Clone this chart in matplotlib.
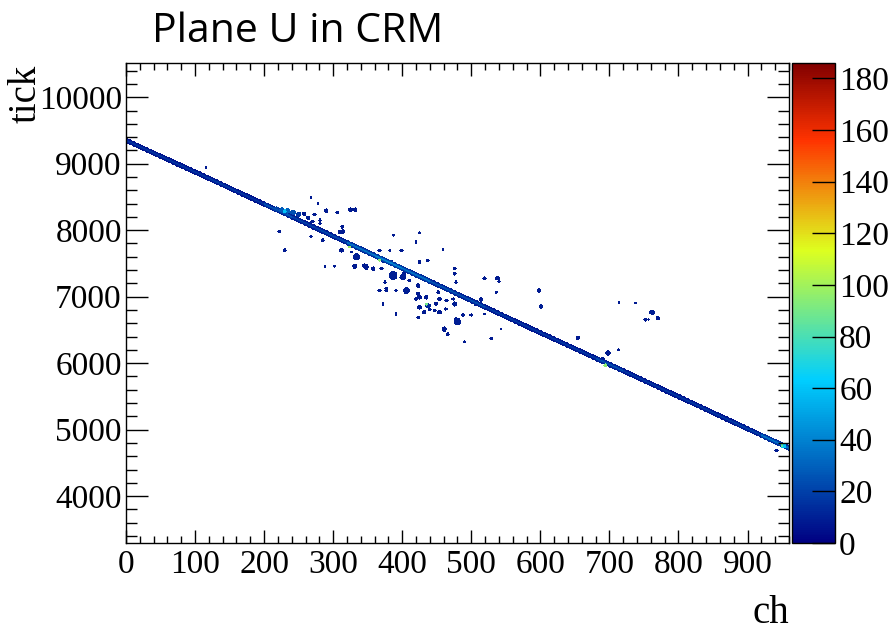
import numpy as np
import matplotlib
matplotlib.use('Agg')
import matplotlib.pyplot as plt
from matplotlib.colors import LinearSegmentedColormap
from matplotlib.ticker import MultipleLocator

# track vertices (channel, tick)
track_ch = [0, 120, 240, 360, 480, 600, 720, 840, 960]
track_tick = [9340, 8770, 8190, 7610, 7030, 6450, 5880, 5300, 4720]
# charge in the track core, one value per 40-channel segment
track_q = [16, 16, 16, 18, 16, 26, 20, 22, 36, 42, 36, 26,
           24, 18, 17, 17, 17, 24, 17, 17, 17, 17, 20, 36]
# relative charge across the track (6-tick rows)
track_profile = [0.35, 0.4, 0.45, 0.55, 0.7, 0.9, 1.0, 1.0, 0.9, 0.7, 0.55, 0.45, 0.4, 0.35]

# isolated hits / blobs: channel, tick, radius (channels), charge
blob_ch = [116, 222, 230, 268, 278, 290, 306, 325, 332, 264, 270, 281, 268, 285,
           313, 314, 312, 288, 302, 334, 331, 348, 358, 367, 382, 387, 399, 420,
           425, 459, 372, 387, 401, 375, 377, 367, 406, 423, 423, 435, 420, 425,
           437, 449, 452, 464, 474, 476, 432, 447, 454, 423, 391, 372, 480, 461,
           466, 490, 488, 500, 476, 519, 538, 540, 514, 506, 519, 536, 543, 529,
           598, 601, 654, 690, 698, 713, 714, 738, 762, 770, 752, 757,
           258, 273, 266, 281, 309, 345, 370, 384, 403, 410, 425, 440, 454, 463,
           478, 478, 377, 391, 425, 437, 476, 326,
           218, 226, 234, 242, 250, 942,
           230, 324, 367, 435, 694, 952, 950]
blob_tick = [8930, 7973, 7690, 8480, 8390, 8280, 8255, 8300, 8300, 8175, 8120, 8090, 7890, 7837,
             8039, 7970, 7686, 7450, 7450, 7590, 7450, 7436, 7410, 7686, 7686, 7912, 7686, 7813,
             7952, 7702, 7536, 7310, 7285, 7210, 7109, 7083, 7083, 7158, 7033, 6983, 6958, 6832,
             6857, 6883, 7059, 6933, 6958, 6883, 6757, 6783, 6757, 6682, 6732, 6883, 6616, 6505,
             6430, 6314, 6717, 6717, 7335, 7270, 7270, 7220, 6948, 6883, 6732, 7059, 6505, 6365,
             7083, 6840, 6374, 6063, 6143, 6194, 6908, 6893, 6757, 6671, 6646, 6646,
             8235, 8225, 8090, 8140, 7963, 7460, 7410, 7511, 7335, 7235, 6983, 6800, 6958, 6807,
             7210, 6656, 7083, 7083, 7511, 7536, 7410, 7662,
             8310, 8295, 8280, 8255, 8225, 4680,
             8275, 7740, 7540, 6880, 5965, 4760, 4755]
blob_r = [1.5, 2, 2, 1.5, 1.5, 2.5, 2, 2.5, 2.5, 2.5, 2, 2, 2, 2,
          2, 2.5, 2.5, 1.5, 1.5, 4, 3, 3, 2.5, 2, 1.5, 1.5, 2, 2,
          1.5, 1.5, 2.5, 5, 3.5, 2, 2, 2, 4, 2.5, 2.5, 2.5, 2, 2.5,
          3, 2.5, 2, 2, 2, 3, 2.5, 2, 2.5, 2, 2, 2, 4, 3,
          2, 1.5, 2, 2, 2, 2, 2.5, 2, 2.5, 2, 1.5, 1.5, 1.5, 2,
          2.5, 2.5, 2.5, 2, 3, 1.5, 1.5, 1.5, 3, 2.5, 2, 1.5,
          2.5, 2, 2, 2, 2, 2.5, 2, 2, 2.5, 2, 2.5, 2, 2.5, 2,
          2, 2, 2, 2, 2, 2, 2, 1.5,
          3, 3, 3, 3, 3, 2,
          2, 1.5, 1.5, 1.5, 2, 3, 1.5]
blob_q = [8, 8, 8, 8, 8, 8, 8, 8, 8, 10, 8, 8, 8, 8,
          8, 8, 8, 8, 8, 10, 8, 8, 8, 8, 8, 8, 8, 8,
          8, 8, 10, 10, 10, 8, 8, 8, 10, 8, 8, 8, 8, 8,
          12, 8, 8, 8, 8, 10, 8, 8, 8, 8, 8, 8, 10, 8,
          8, 8, 8, 8, 8, 8, 8, 8, 8, 8, 8, 8, 8, 8,
          8, 10, 8, 8, 8, 8, 8, 8, 10, 8, 8, 8,
          8, 8, 8, 8, 8, 8, 8, 8, 8, 8, 8, 8, 8, 8,
          8, 8, 8, 8, 8, 8, 8, 8,
          20, 28, 30, 24, 16, 8,
          60, 100, 95, 90, 95, 60, 85]

x_ticks = [0, 100, 200, 300, 400, 500, 600, 700, 800, 900]
y_ticks = [4000, 5000, 6000, 7000, 8000, 9000, 10000]
z_ticks = [0, 20, 40, 60, 80, 100, 120, 140, 160, 180]

# ROOT rainbow palette (kRainBow-like)
stops = [0.00, 0.34, 0.61, 0.84, 1.00]
red = [0.00, 0.00, 0.87, 1.00, 0.51]
green = [0.00, 0.81, 1.00, 0.20, 0.00]
blue = [0.51, 1.00, 0.12, 0.00, 0.00]
cmap = LinearSegmentedColormap.from_list(
    'root', [(s, (r, g, b)) for s, r, g, b in zip(stops, red, green, blue)])

# build the 2D histogram
x0, x1, dx = 0, 960, 1
y0, y1, dy = 3294, 10518, 6
nx = (x1 - x0) // dx
ny = (y1 - y0) // dy
H = np.zeros((ny, nx))
ch_c = np.arange(nx) * dx + x0 + 0.5 * dx
tk_c = np.arange(ny) * dy + y0 + 0.5 * dy

centers = np.interp(ch_c, track_ch, track_tick)
half = len(track_profile) / 2 - 0.5
for i, c in enumerate(centers):
    q = track_q[min(int(ch_c[i] // 40), len(track_q) - 1)]
    for k, w in enumerate(track_profile):
        row = int((c + (k - half) * dy - y0) // dy)
        if 0 <= row < ny:
            H[row, i] = max(H[row, i], q * w)

CH, TK = np.meshgrid(ch_c, tk_c)
for c, t, r, q in zip(blob_ch, blob_tick, blob_r, blob_q):
    r = r * 1.3
    m = ((CH - c) / r) ** 2 + ((TK - t) / (r * 10.4)) ** 2 <= 1
    H[m] = np.maximum(H[m], q)

Hm = np.ma.masked_equal(H, 0)

fig = plt.figure(figsize=(8.93, 6.31), dpi=100)
ax = fig.add_axes([0.1411, 0.1395, 0.7424, 0.7607])
cax = fig.add_axes([0.8869, 0.1395, 0.0482, 0.7607])

im = ax.imshow(Hm, origin='lower', extent=[x0, x1, y0, y1], aspect='auto',
               cmap=cmap, vmin=0, vmax=186, interpolation='nearest')
ax.set_xlim(0, 960)
ax.set_ylim(3295, 10515)

serif = 'Liberation Serif'
ax.set_xticks(x_ticks)
ax.set_yticks(y_ticks)
ax.xaxis.set_minor_locator(MultipleLocator(20))
ax.yaxis.set_minor_locator(MultipleLocator(200))
ax.tick_params(axis='x', which='major', direction='in', length=9.5, width=1,
               top=True, pad=5)
ax.tick_params(axis='x', which='minor', direction='in', length=5, width=1, top=True)
ax.tick_params(axis='y', which='major', direction='in', length=15.5, width=1,
               right=True, pad=3)
ax.tick_params(axis='y', which='minor', direction='in', length=8, width=1, right=True)
for lab in ax.get_xticklabels() + ax.get_yticklabels():
    lab.set_fontfamily(serif)
    lab.set_fontsize(24)
for s in ax.spines.values():
    s.set_linewidth(1)

cb = fig.colorbar(im, cax=cax)
cb.set_ticks(z_ticks)
cb.outline.set_linewidth(1)
cax.yaxis.set_ticks_position('right')
cax.tick_params(direction='in', length=16.5, width=1, pad=3)
for lab in cax.get_yticklabels():
    lab.set_fontfamily(serif)
    lab.set_fontsize(24)

fig.text(0.029, 0.897, 'tick', rotation=90, ha='center', va='top',
         family=serif, fontsize=28)
fig.text(789 / 893, 0.012, 'ch', ha='right', va='baseline', family=serif, fontsize=28)
fig.text(0.170, 0.9334, 'Plane U in CRM', ha='left', va='baseline',
         family='Open Sans', fontsize=29.5)

fig.savefig('out.png', dpi=100)
